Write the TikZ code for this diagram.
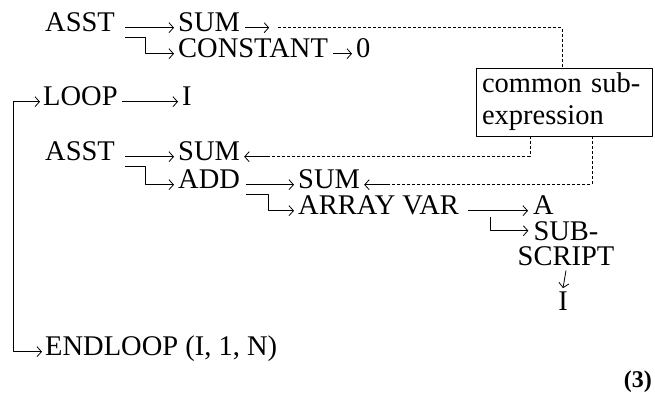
\documentclass[tikz,border=0pt]{standalone}
\usepackage{fontspec}
\setmainfont{Liberation Serif}
\usetikzlibrary{arrows.meta,calc,positioning}

\tikzset{
	>={Straight Barb[length=4.5pt,width=10pt,line width=0.8pt]},
	term/.style={anchor=base west, inner xsep=0pt, inner ysep=0pt, text height=0.66em, text depth=0pt},
	link/.style={->, line width=0.8pt},
	share/.style={densely dashed, line width=0.7pt},
}

\begin{document}
\begin{tikzpicture}[x=1pt,y=-1pt,font=\fontsize{28.5}{32}\selectfont,line join=round]
			\useasboundingbox (0,0) rectangle (655,392);
			
			% first assignment: SUM := 0
			\node[term] (asstA) at (45,31) {ASST};
			\node[term] (sumA) at (178,31) {SUM};
			\node[term] (const) at (178,57) {CONSTANT};
			\node[term] (zero) at (356,57) {0};
			\draw[link] ([xshift=10pt]asstA.east) -- ([xshift=-4pt]sumA.west);
			\draw[link] ([xshift=10pt,yshift=-10pt]asstA.east) -- ++(20,0) |- ([xshift=-4pt]const.west);
			\draw[link] ([xshift=5pt]sumA.east) -- ++(24,0) coordinate (sumAtip);
			\draw[link] ([xshift=5pt]const.east) -- ([xshift=-4pt]zero.west);
			
			% loop header and end
			\node[term] (loop) at (43,105) {LOOP};
			\node[term] (ivar) at (182,105) {I};
			\node[term] (endloop) at (45,355) {ENDLOOP (I, 1, N)};
			\draw[link] ([xshift=4pt]loop.east) -- ([xshift=-4pt]ivar.west);
			\coordinate (spine) at (13,0);
			\draw[link,<->] ([xshift=-3pt]loop.west) -- (loop.west -| spine) -- (endloop.west -| spine) -- ([xshift=-3pt]endloop.west);
			
			% the shared node
			\node[draw, line width=0.8pt, align=left, text width=164pt, inner xsep=6pt, inner ysep=5pt] (note) at (564,102) {common sub-\\expression};
			
			% second assignment: SUM := SUM + A(I)
			\node[term] (asstB) at (45,160) {ASST};
			\node[term] (sumB) at (178,160) {SUM};
			\node[term] (add) at (178,188) {ADD};
			\node[term] (sumC) at (298,188) {SUM};
			\node[term] (arr) at (298,214) {ARRAY VAR};
			\node[term] (avar) at (533,214) {A};
			\node[anchor=base, inner sep=0pt] (subA) at (566,240) {SUB-};
			\node[anchor=base, inner sep=0pt] (subB) at (566,265) {SCRIPT};
			\node[anchor=base, inner sep=0pt] (idx) at (563,310) {I};
			
			\draw[link] ([xshift=10pt]asstB.east) -- ([xshift=-4pt]sumB.west);
			\draw[link] ([xshift=10pt,yshift=-10pt]asstB.east) -- ++(20,0) |- ([xshift=-4pt]add.west);
			\draw[link] ([xshift=6pt]add.east) -- ([xshift=-4pt]sumC.west);
			\draw[link] ([xshift=6pt,yshift=-10pt]add.east) -- ++(22,0) |- ([xshift=-4pt]arr.west);
			\draw[link] ([xshift=9pt]arr.east) -- ([xshift=-5pt]avar.west);
			\draw[link] ($(arr.east)+(31,6)$) |- ([xshift=-5pt]subA.west);
			\draw[link] ([yshift=-5pt]subB.south) -- ([yshift=3pt]idx.north);
			
			% dashed references to the shared node
			\draw[share] ([xshift=9pt]sumAtip) -| ([xshift=-2pt]note.north);
			\draw[share] ([xshift=-34pt]note.south) |- ([xshift=29pt]sumB.east);
			\draw[link] ([xshift=29pt]sumB.east) -- ([xshift=4pt]sumB.east);
			\draw[share] ([xshift=28pt]note.south) |- ([xshift=29pt]sumC.east);
			\draw[link] ([xshift=29pt]sumC.east) -- ([xshift=4pt]sumC.east);
			
			\node[anchor=base east, inner sep=0pt, font=\fontsize{24}{28}\selectfont\bfseries] (eqno) at (652,387) {(3)};
		\end{tikzpicture}
\end{document}
